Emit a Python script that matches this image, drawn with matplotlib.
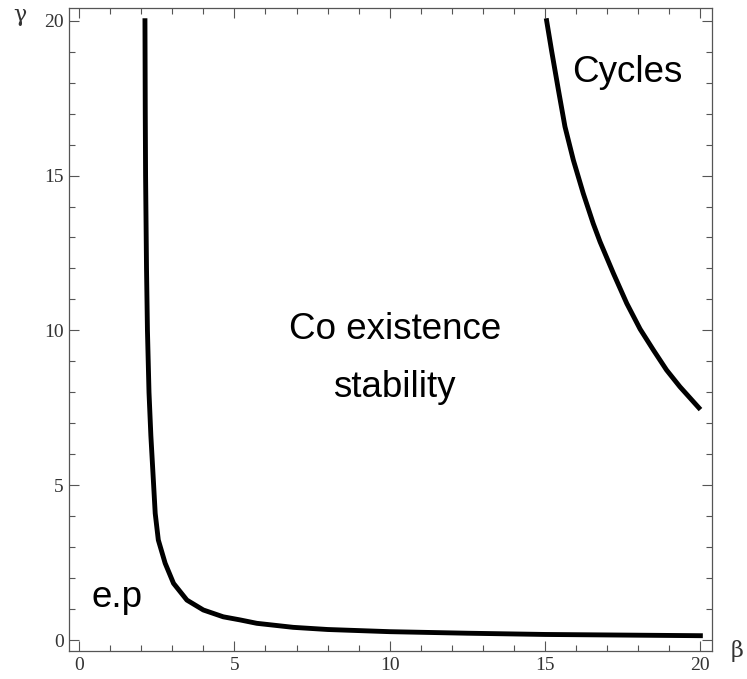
import matplotlib.pyplot as plt
from matplotlib.ticker import MultipleLocator

# lower boundary curve (e.p / coexistence)
beta_low = [2.12, 2.13, 2.14, 2.17, 2.20, 2.25, 2.31, 2.39, 2.45, 2.55, 2.77,
            3.04, 3.47, 4.00, 4.64, 5.18, 5.72, 6.89, 8.0, 10.0, 12.5, 15.0,
            17.5, 20.0]
gamma_low = [20.0, 17.0, 15.0, 12.0, 10.0, 8.0, 6.6, 5.17, 4.09, 3.23, 2.48,
             1.83, 1.29, 0.97, 0.75, 0.65, 0.54, 0.41, 0.34, 0.27, 0.22, 0.18,
             0.16, 0.14]

# upper boundary curve (coexistence / cycles)
beta_up = [15.05, 15.21, 15.43, 15.64, 15.91, 16.23, 16.55, 16.77, 17.20,
           17.63, 18.06, 18.49, 18.91, 19.34, 19.95]
gamma_up = [20.0, 19.03, 17.76, 16.58, 15.50, 14.42, 13.45, 12.86, 11.84,
            10.87, 10.04, 9.36, 8.72, 8.18, 7.50]

fig = plt.figure(figsize=(7.47, 6.79), dpi=100)
ax = fig.add_axes([0.093, 0.0412, 0.86, 0.947])

ax.plot(beta_low, gamma_low, color='black', linewidth=3.5, solid_joinstyle='round')
ax.plot(beta_up, gamma_up, color='black', linewidth=3.5, solid_joinstyle='round')

txt = dict(fontsize=26.5, family='Liberation Sans', ha='center', va='baseline')
ax.text(17.64, 18.02, 'Cycles', **txt)
ax.text(10.17, 9.72, 'Co existence', **txt)
ax.text(10.14, 7.85, 'stability', **txt)
ax.text(1.22, 1.07, 'e.p', **txt)

ax.set_xlim(-0.31, 20.37)
ax.set_ylim(-0.355, 20.41)
ax.xaxis.set_major_locator(MultipleLocator(5))
ax.xaxis.set_minor_locator(MultipleLocator(1))
ax.yaxis.set_major_locator(MultipleLocator(5))
ax.yaxis.set_minor_locator(MultipleLocator(1))
ax.tick_params(which='both', direction='in', top=True, right=True, color='#555555')
ax.tick_params(which='major', length=7, width=0.8, pad=4, labelsize=14, labelcolor='#333333')
ax.tick_params(which='minor', length=4, width=0.8)
for lab in ax.get_xticklabels() + ax.get_yticklabels():
    lab.set_family('Liberation Serif')
for sp in ax.spines.values():
    sp.set_color('#555555')
    sp.set_linewidth(0.9)

fig.text(0.027, 0.978, 'γ', fontsize=16, family='DejaVu Serif', ha='center', va='center', color='#333333')
fig.text(0.987, 0.041, 'β', fontsize=16, family='DejaVu Serif', ha='center', va='center', color='#333333')

fig.savefig('out.png', dpi=100)
